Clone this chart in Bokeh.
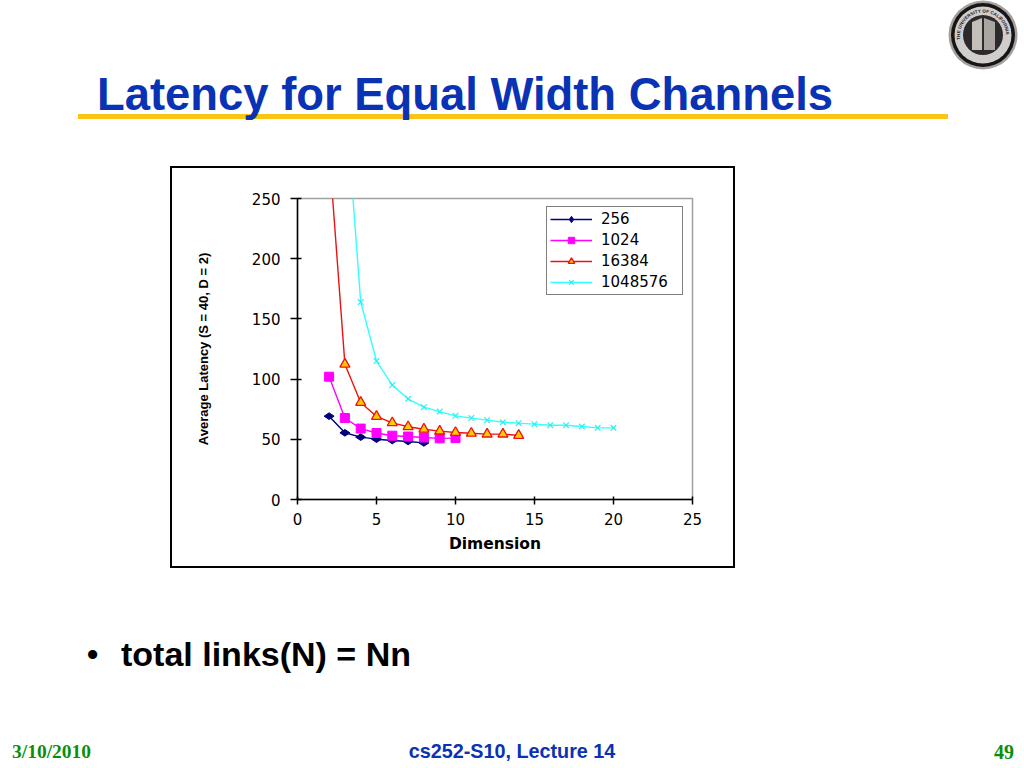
from bokeh.embed import file_html
from bokeh.layouts import column, row
from bokeh.models import Div, Legend, LegendItem, Range1d, Spacer
from bokeh.plotting import figure
from bokeh.resources import INLINE

# values
dim_256 = [2, 3, 4, 5, 6, 7, 8]
lat_256 = [69.2, 55.4, 51.8, 50.1, 49, 48.2, 47]

dim_1024 = [2, 3, 4, 5, 6, 7, 8, 9, 10]
lat_1024 = [102, 67.7, 58.9, 55.2, 53, 52.3, 51.5, 50.8, 51]

dim_16384 = [2, 3, 4, 5, 6, 7, 8, 9, 10, 11, 12, 13, 14]
lat_16384 = [290, 112.4, 80.6, 69, 63.7, 60.4, 58.4, 56.8, 55.6, 55, 54.3, 54.3, 53.2]

dim_1m = [3, 4, 5, 6, 7, 8, 9, 10, 11, 12, 13, 14, 15, 16, 17, 18, 19, 20]
lat_1m = [340, 164, 115, 95, 83.6, 76.7, 73, 69.5, 67.6, 65.9, 64.2, 63.4, 62.6, 61.7, 61.7, 60.6, 59.5, 59.5]

x_ticks = [0, 5, 10, 15, 20, 25]
y_ticks = [0, 50, 100, 150, 200, 250]

title = "Latency for Equal Width Channels"
bullet = "total links(N) = Nn"
footer_date = "3/10/2010"
footer_mid = "cs252-S10, Lecture 14"
footer_page = "49"

BLUE = "#0a32b4"
GREEN = "#0b8f0b"

# the chart is its own figure, the slide text and the box around the chart are divs
p = figure(width=561, height=398, output_backend="svg", toolbar_location=None,
           x_range=Range1d(0, 25), y_range=Range1d(0, 250),
           min_border_left=125, min_border_right=41, min_border_top=30, min_border_bottom=67,
           x_axis_label="Dimension", y_axis_label="Average Latency (S = 40, D = 2)",
           margin=0)
p.grid.visible = False
p.outline_line_color = "#a0a0a0"
p.outline_line_width = 1.5

for ax, ticks in ((p.xaxis[0], x_ticks), (p.yaxis[0], y_ticks)):
    ax.ticker = ticks
    ax.axis_line_color = "black"
    ax.axis_line_width = 1.5
    ax.major_tick_line_color = "black"
    ax.major_tick_line_width = 1.5
    ax.minor_tick_line_color = None
    ax.major_label_text_font = "DejaVu Sans"
    ax.major_label_text_font_size = "15px"
    ax.major_label_text_color = "black"
    ax.axis_label_text_color = "black"

p.xaxis[0].major_tick_in = 3
p.xaxis[0].major_tick_out = 5
p.yaxis[0].major_tick_in = 4
p.yaxis[0].major_tick_out = 7
p.xaxis[0].major_label_standoff = 8
p.yaxis[0].major_label_standoff = 10
p.xaxis[0].axis_label_text_font = "DejaVu Sans"
p.xaxis[0].axis_label_text_font_style = "bold"
p.xaxis[0].axis_label_text_font_size = "15.5px"
p.xaxis[0].axis_label_standoff = 7
p.yaxis[0].axis_label_text_font = "Liberation Sans"
p.yaxis[0].axis_label_text_font_style = "bold"
p.yaxis[0].axis_label_text_font_size = "13px"
p.yaxis[0].axis_label_standoff = 38

# series
l1 = p.line(dim_256, lat_256, color="#000080", line_width=1.4)
m1 = p.scatter(dim_256, lat_256, marker="diamond", size=10, angle=1.5708, color="#000080")
l2 = p.line(dim_1024, lat_1024, color="#ff00ff", line_width=1.4)
m2 = p.scatter(dim_1024, lat_1024, marker="square", size=9, color="#ff00ff")
l3 = p.line(dim_16384, lat_16384, color="#ee1111", line_width=1.4)
m3 = p.scatter(dim_16384, lat_16384, marker="triangle", size=10, fill_color="#ffcc00",
               line_color="#ee1111", line_width=1.3)
l4 = p.line(dim_1m, lat_1m, color="#33ffff", line_width=1.4)
m4 = p.scatter(dim_1m, lat_1m, marker="x", size=8, line_color="#33eeee", line_width=1.2)

legend = Legend(items=[LegendItem(label="256", renderers=[l1, m1]),
                       LegendItem(label="1024", renderers=[l2, m2]),
                       LegendItem(label="16384", renderers=[l3, m3]),
                       LegendItem(label="1048576", renderers=[l4, m4])],
                location=(249, 204), orientation="vertical", margin=0, padding=3, spacing=3,
                glyph_width=42, glyph_height=16, label_standoff=9, label_width=78,
                label_text_font="DejaVu Sans", label_text_font_size="15px", label_text_color="black",
                label_height=16, border_line_color="black", border_line_width=1.2,
                background_fill_alpha=1)
p.add_layout(legend, "center")


def text_at(x, y, text, font, size, color, extra=""):
    return (f'<div style="position:absolute;left:{x}px;top:{y}px;white-space:nowrap;line-height:1;'
            f'font-family:\'{font}\';font-weight:bold;font-size:{size}px;color:{color};{extra}">{text}</div>')


def bar_at(x, y, w, h, color):
    return f'<div style="position:absolute;left:{x}px;top:{y}px;width:{w}px;height:{h}px;background:{color}"></div>'


seal = """
<svg style="position:absolute;left:948px;top:0px" width="70" height="70" viewBox="0 0 70 70">
<circle cx="35" cy="35" r="34.5" fill="#a89f9f"/>
<circle cx="35" cy="35" r="32" fill="#161616"/>
<circle cx="35" cy="35" r="28.5" fill="#d2cdcd"/>
<circle cx="35" cy="35" r="20" fill="#2c2a2a"/>
<path id="ring" d="M 18 51 A 23 23 0 1 1 52 51" fill="none"/>
<text font-family="Liberation Sans" font-size="4.6" font-weight="bold" fill="#222">
<textPath href="#ring" startOffset="12%">THE UNIVERSITY OF CALIFORNIA</textPath></text>
<path d="M 24 22 L 34 18 L 34 50 L 24 50 Z" fill="#c4bfb8"/>
<path d="M 36 18 L 47 22 L 47 50 L 36 50 Z" fill="#aaa59e"/>
</svg>
"""

header = Div(width=1024, height=168, margin=0, styles={"position": "relative"},
             text=bar_at(78, 114, 870, 5, "#fcc414")
             + text_at(97, 72, title, "Liberation Sans", 45.4, BLUE)
             + seal
             + bar_at(170, 166, 565, 2, "black"))

# footer div starts at y=566
footer = Div(width=1024, height=200, margin=0, styles={"position": "relative"},
             text=bar_at(170, 0, 565, 2, "black")
             + text_at(87, 72, "\u2022", "Liberation Sans", 32, "black")
             + text_at(121, 71, bullet, "Liberation Sans", 34, "black")
             + text_at(12, 176, footer_date, "Liberation Serif", 19.5, GREEN)
             + text_at(0, 176, footer_mid, "Liberation Sans", 19.8, BLUE, "width:1024px;text-align:center")
             + text_at(994, 176, footer_page, "Liberation Serif", 20, GREEN))

left_bar = Div(width=2, height=398, margin=0, styles={"background": "black"})
right_bar = Div(width=2, height=398, margin=0, styles={"background": "black"})
middle = row(Spacer(width=170, height=398, margin=0), left_bar, p, right_bar, margin=0, spacing=0)

layout = column(header, middle, footer, margin=0, spacing=0)

open("out.html", "w").write(file_html(layout, INLINE))
